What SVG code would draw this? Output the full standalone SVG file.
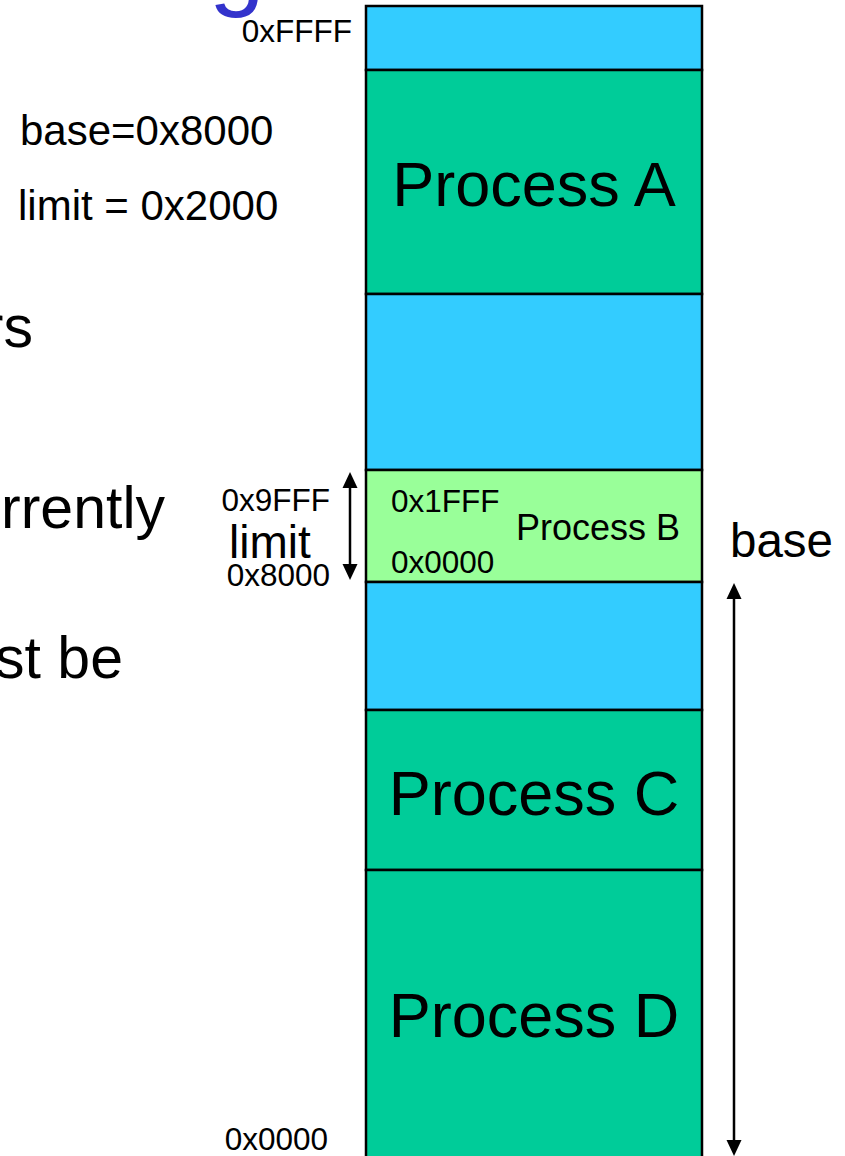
<svg xmlns="http://www.w3.org/2000/svg" width="845" height="1156" viewBox="0 0 845 1156">
<defs>
<style>
text{font-family:"Liberation Sans",Arial,sans-serif;fill:#000}
.seg{stroke:#000;stroke-width:2.5}
.blue{fill:#33CCFF}
.green{fill:#00CC99}
.light{fill:#99FF99}
.big{font-size:63px}
.addr{font-size:31.5px}
.body{font-size:59px}
.conn{stroke:#000;stroke-width:2.5;fill:none}
.head{fill:#000}
</style>
</defs>
<rect width="845" height="1156" fill="#fff"/>
<text x="209" y="-3" style="font-size:100px;fill:#3333CC">g</text>
<text x="33" y="347" class="body" text-anchor="end">rs</text>
<text x="165" y="528" class="body" text-anchor="end">rrently</text>
<text x="123" y="678" class="body" text-anchor="end">st be</text>
<text x="20" y="145" style="font-size:42px">base=0x8000</text>
<text x="18" y="220" style="font-size:42px">limit = 0x2000</text>
<g id="seg-free-top"><rect class="seg blue" x="366" y="6" width="336" height="64"/></g>
<g id="process-a"><rect class="seg green" x="366" y="70" width="336" height="224"/><text x="534" y="206" class="big" text-anchor="middle">Process A</text></g>
<g id="seg-free-1"><rect class="seg blue" x="366" y="294" width="336" height="176"/></g>
<g id="process-b"><rect class="seg light" x="366" y="470" width="336" height="112"/>
<text x="391" y="512" class="addr">0x1FFF</text>
<text x="391" y="573" class="addr">0x0000</text>
<text x="598" y="540" style="font-size:36px" text-anchor="middle">Process B</text></g>
<g id="seg-free-2"><rect class="seg blue" x="366" y="582" width="336" height="128"/></g>
<g id="process-c"><rect class="seg green" x="366" y="710" width="336" height="160"/><text x="534" y="815" class="big" text-anchor="middle">Process C</text></g>
<g id="process-d"><rect class="seg green" x="366" y="870" width="336" height="300"/><text x="534" y="1037" class="big" text-anchor="middle">Process D</text></g>
<text x="352" y="42" class="addr" text-anchor="end">0xFFFF</text>
<text x="330" y="511" class="addr" text-anchor="end">0x9FFF</text>
<text x="270" y="558" style="font-size:46px" text-anchor="middle">limit</text>
<text x="330" y="586" class="addr" text-anchor="end">0x8000</text>
<text x="328" y="1150" class="addr" text-anchor="end">0x0000</text>
<text x="730" y="557" style="font-size:47.5px">base</text>
<g id="connectors">
<line class="conn" x1="350" y1="484" x2="350" y2="568"/>
<polygon class="head" points="350,472 342.5,488 357.5,488"/>
<polygon class="head" points="350,580 342.5,564 357.5,564"/>
<line class="conn" x1="734" y1="595" x2="734" y2="1144"/>
<polygon class="head" points="734,583 726.5,599 741.5,599"/>
<polygon class="head" points="734,1156 726.5,1140 741.5,1140"/>
</g>
</svg>
